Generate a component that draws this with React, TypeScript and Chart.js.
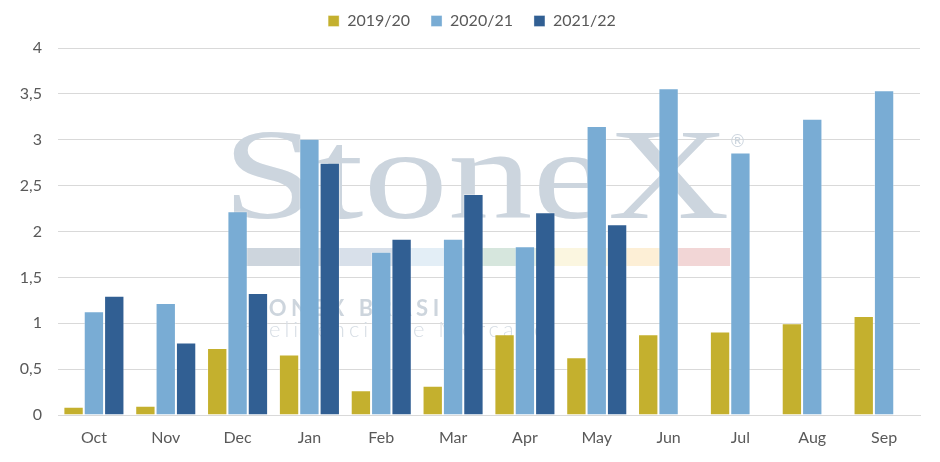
import React, { useEffect, useRef } from "react";
import { Chart, registerables } from "chart.js";

Chart.register(...registerables);

const categories = ["Oct", "Nov", "Dec", "Jan", "Feb", "Mar", "Apr", "May", "Jun", "Jul", "Aug", "Sep"];
const seriesNames = ["2019/20", "2020/21", "2021/22"];
const values2019 = [0.09, 0.1, 0.73, 0.66, 0.27, 0.32, 0.88, 0.63, 0.88, 0.91, 1.0, 1.08];
const values2020 = [1.13, 1.22, 2.22, 3.01, 1.78, 1.92, 1.84, 3.15, 3.56, 2.86, 3.23, 3.54];
const values2021 = [1.3, 0.79, 1.33, 2.75, 1.92, 2.41, 2.21, 2.08, null, null, null, null];
const colors = ["#C4B02E", "#79ACD4", "#315F93"];
const yTicks = [0, 0.5, 1, 1.5, 2, 2.5, 3, 3.5, 4];

const FONT = "Lato, 'Open Sans', sans-serif";

const watermark = {
  id: "watermark",
  beforeDatasetsDraw(chart: any) {
    const { ctx, chartArea } = chart;
    const ox = chartArea.left;
    const oy = chartArea.top;
    ctx.save();
    ctx.fillStyle = "#CCD5DE";
    ctx.font = "130px 'Liberation Serif', 'DejaVu Serif', serif";
    ctx.textBaseline = "alphabetic";
    const txt = "StoneX";
    const m = ctx.measureText(txt);
    const inkW = m.actualBoundingBoxRight + m.actualBoundingBoxLeft;
    const target = 494;
    const sx = target / inkW;
    ctx.translate(ox + 175, oy + 170);
    ctx.scale(sx, 1);
    ctx.fillText(txt, m.actualBoundingBoxLeft, 0);
    ctx.restore();

    ctx.save();
    ctx.fillStyle = "#CCD5DE";
    ctx.font = "17px 'DejaVu Sans', sans-serif";
    ctx.fillText("®", ox + 671, oy + 95);
    const band = [
      ["#CDD5DD", 188, 92],
      ["#D8E0EA", 280, 72],
      ["#E3EEF6", 352, 72],
      ["#D6E6DD", 424, 73],
      ["#FBF6E0", 497, 72],
      ["#FDEFD6", 569, 41],
      ["#F2D6D6", 610, 62],
    ] as const;
    band.forEach(([c, x, bw]) => {
      ctx.fillStyle = c;
      ctx.fillRect(ox + x, oy + 200, bw, 18);
    });
    ctx.fillStyle = "#CDD5DD";
    ctx.font = "bold 22px Lato, sans-serif";
    (ctx as any).letterSpacing = "4.5px";
    ctx.fillText("STONEX BRASIL", ox + 177, oy + 261);
    ctx.fillStyle = "#D6DDE4";
    ctx.font = "300 22px Lato, sans-serif";
    (ctx as any).letterSpacing = "4px";
    ctx.fillText("Inteligência de Mercado", ox + 174, oy + 282);
    ctx.restore();
  },
};

export default function App() {
  const ref = useRef<HTMLCanvasElement | null>(null);
  useEffect(() => {
    if (!ref.current) return;
    const data = [values2019, values2020, values2021];
    const chart = new Chart(ref.current, {
      type: "bar",
      data: {
        labels: categories,
        datasets: seriesNames.map((name, i) => ({
          label: name,
          data: data[i],
          backgroundColor: colors[i],
          borderColor: "rgba(255,255,255,0.35)",
          borderWidth: 1,
          categoryPercentage: 0.85,
          barPercentage: 1,
        })),
      },
      options: {
        animation: false,
        responsive: true,
        maintainAspectRatio: false,
        layout: { padding: { left: 4, right: 0, top: -8, bottom: 0 } },
        plugins: {
          legend: {
            position: "top",
            align: "center",
            labels: {
              boxWidth: 11,
              boxHeight: 11,
              padding: 21,
              color: "#595959",
              font: { family: FONT, size: 16 },
            },
          },
          tooltip: { enabled: false },
        },
        scales: {
          x: {
            grid: { display: false, drawTicks: false },
            border: { display: true, color: "#D9D9D9", width: 1 },
            ticks: { color: "#595959", font: { family: FONT, size: 16 }, padding: 13 },
            afterFit: (axis: any) => {
              axis.height = 47;
            },
          },
          y: {
            min: 0,
            max: 4,
            afterBuildTicks: (axis: any) => {
              axis.ticks = yTicks.map((v) => ({ value: v }));
            },
            grid: { color: "#D9D9D9", lineWidth: 1, drawTicks: false },
            border: { display: false },
            ticks: {
              color: "#595959",
              font: { family: FONT, size: 16 },
              padding: 16,
              callback: (v: any) => String(v).replace(".", ","),
            },
            afterFit: (axis: any) => {
              axis.width = 54;
            },
          },
          yRight: {
            position: "right",
            display: true,
            min: 0,
            max: 4,
            grid: { display: false, drawTicks: false },
            border: { display: false },
            ticks: { display: false },
            afterFit: (axis: any) => {
              axis.width = 20;
            },
          },
        },
      },
      plugins: [watermark],
    });
    const lg: any = (chart as any).legend;
    if (lg) {
      const orig = lg.fit.bind(lg);
      lg.fit = () => {
        orig();
        lg.height = 56;
      };
      chart.update();
    }
    return () => chart.destroy();
  }, []);
  return (
    <div style={{ position: "fixed", left: 0, top: 0, width: 940, height: 462, background: "#fff" }}>
      <canvas ref={ref} />
    </div>
  );
}
